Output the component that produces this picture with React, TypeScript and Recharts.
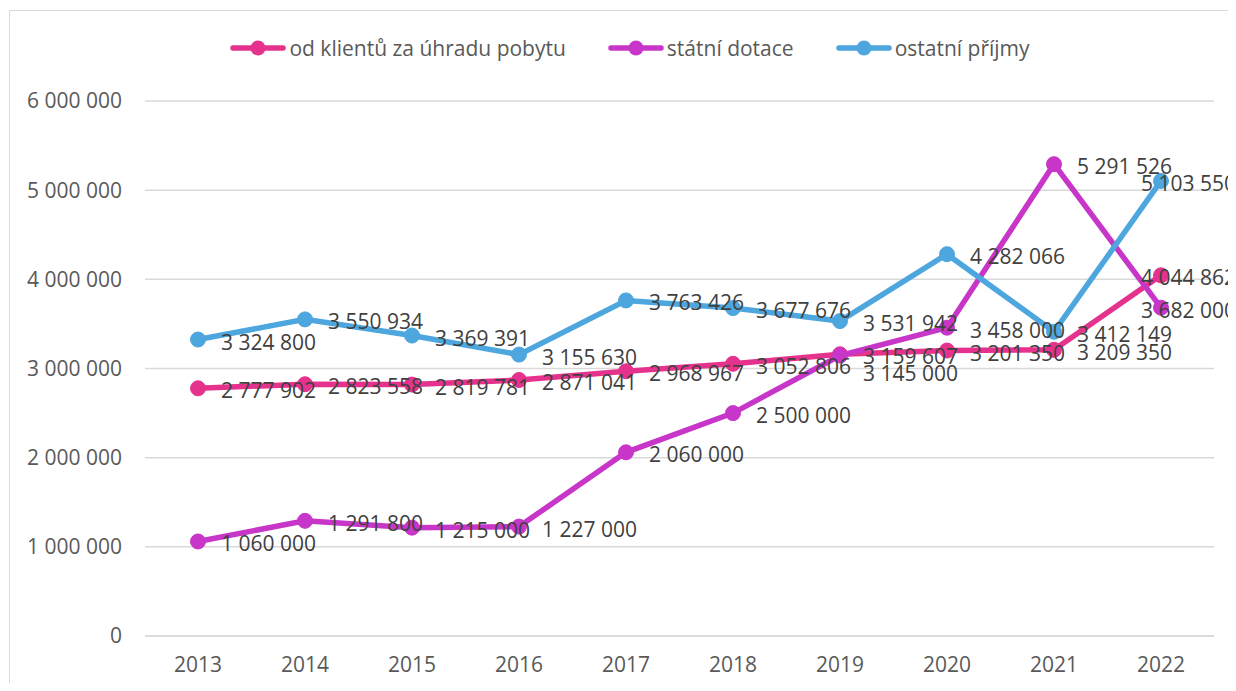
import React from "react";
import { LineChart, Line, XAxis, YAxis, CartesianGrid, Legend } from "recharts";

const years = ["2013", "2014", "2015", "2016", "2017", "2018", "2019", "2020", "2021", "2022"];
const odKlientu = [2777902, 2823558, 2819781, 2871041, 2968967, 3052806, 3159607, 3201350, 3209350, 4044862];
const statniDotace = [1060000, 1291800, 1215000, 1227000, 2060000, 2500000, 3145000, 3458000, 5291526, 3682000];
const ostatniPrijmy = [3324800, 3550934, 3369391, 3155630, 3763426, 3677676, 3531942, 4282066, 3412149, 5103550];
const yTicks = [0, 1000000, 2000000, 3000000, 4000000, 5000000, 6000000];

const series = [
  { key: "klienti", name: "od klientů za úhradu pobytu", color: "#E5338D", values: odKlientu },
  { key: "dotace", name: "státní dotace", color: "#C836C9", values: statniDotace },
  { key: "ostatni", name: "ostatní příjmy", color: "#4DA6DE", values: ostatniPrijmy },
];

const data = years.map((y, i) => ({
  year: y,
  klienti: odKlientu[i],
  dotace: statniDotace[i],
  ostatni: ostatniPrijmy[i],
}));

const FONT = "'Open Sans', 'Noto Sans', sans-serif";
const FS = 21;
const fmt = (n: number) => String(n).replace(/\B(?=(\d{3})+(?!\d))/g, " ");

const makeLabel = (seriesIdx: number) => (props: any) => {
  const { x, y, value, index } = props;
  if (x == null || y == null) return null;
  const last = index === years.length - 1;
  // avoid collision with labels of earlier series at the same category
  let shift = 0;
  for (let k = 0; k < seriesIdx; k++) {
    const other = series[k].values[index];
    if (Math.abs(other - value) * (535 / 6000000) < 12) shift = 15;
  }
  return (
    <text
      x={last ? x - 20 : x + 23}
      y={y + 2 + shift}
      dominantBaseline="central"
      fill="#404040"
      fontSize={FS}
      fontFamily={FONT}
    >
      {fmt(value)}
    </text>
  );
};

const LegendContent = () => (
  <div
    style={{
      display: "flex",
      justifyContent: "center",
      alignItems: "center",
      fontFamily: FONT,
      fontSize: FS,
      lineHeight: "26px",
      color: "#595959",
      gap: 42,
    }}
  >
    {series.map((s) => (
      <div key={s.key} style={{ display: "flex", alignItems: "center" }}>
        <svg width={56} height={18} style={{ marginRight: 3 }}>
          <line x1={3} y1={9} x2={53} y2={9} stroke={s.color} strokeWidth={5.5} strokeLinecap="round" />
          <circle cx={28} cy={9} r={7.5} fill={s.color} />
        </svg>
        <span>{s.name}</span>
      </div>
    ))}
  </div>
);

export default function App() {
  return (
    <div style={{ width: 1228, height: 675, overflow: "hidden" }}>
      <style>{`html, body { overflow: hidden; }`}</style>
      <div
        style={{
          position: "relative",
          left: 1,
          top: 2,
          width: 1240,
          height: 700,
          borderLeft: "1px solid #d9d9d9",
          borderTop: "1px solid #d9d9d9",
          background: "#fff",
        }}
      >
        <LineChart
          width={1240}
          height={700}
          data={data}
          margin={{ top: 64, right: 36, bottom: 35, left: 0 }}
        >
          <CartesianGrid vertical={false} stroke="#d9d9d9" strokeWidth={1.5} />
          <XAxis
            dataKey="year"
            padding={{ left: 53, right: 53 }}
            tickLine={false}
            axisLine={{ stroke: "#d9d9d9", strokeWidth: 1.5 }}
            tickSize={0}
            tickMargin={21}
            height={40}
            tick={{ fill: "#595959", fontSize: FS, fontFamily: FONT }}
          />
          <YAxis
            width={135}
            domain={[0, 6000000]}
            ticks={yTicks}
            tickFormatter={fmt}
            tickLine={false}
            axisLine={false}
            tickSize={0}
            tickMargin={23}
            tick={{ fill: "#595959", fontSize: FS, fontFamily: FONT }}
          />
          <Legend
            verticalAlign="top"
            content={<LegendContent />}
            wrapperStyle={{ top: 24, left: 0, width: 1240, height: 26 }}
          />
          {series.map((s) => (
            <Line
              key={s.key}
              dataKey={s.key}
              name={s.name}
              stroke={s.color}
              strokeWidth={5.5}
              dot={{ r: 7.5, fill: s.color, stroke: s.color, strokeWidth: 1 }}
              activeDot={false}
              isAnimationActive={false}
            />
          ))}
          {series.map((s, si) => (
            <Line
              key={s.key + "-lbl"}
              dataKey={s.key}
              stroke="none"
              dot={false}
              activeDot={false}
              legendType="none"
              isAnimationActive={false}
              label={makeLabel(si)}
            />
          ))}
        </LineChart>
      </div>
    </div>
  );
}
